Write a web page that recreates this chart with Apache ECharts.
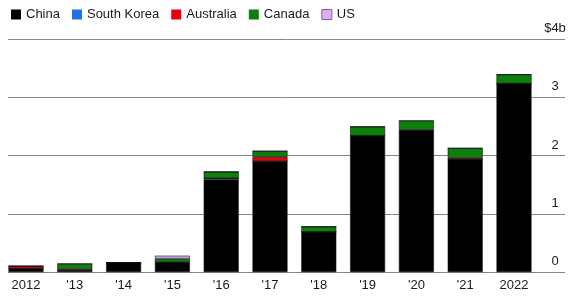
<!DOCTYPE html>
<html><head><meta charset="utf-8">
<script src="https://cdn.jsdelivr.net/npm/echarts@6/dist/echarts.min.js"></script>
<style>html,body{margin:0;padding:0;background:#fff}#c{width:581px;height:302px}</style>
</head><body><div id="c"></div>
<script>
const categories = ["2012","'13","'14","'15","'16","'17","'18","'19","'20","'21","2022"];
const china      = [0.06, 0.03, 0.16, 0.16, 1.59, 1.90, 0.69, 2.34, 2.43, 1.94, 3.235];
const southKorea = [0,    0,    0,    0.01, 0.02, 0,    0,    0,    0,    0,    0];
const australia  = [0.04, 0.02, 0,    0,    0,    0.075,0,    0,    0.01, 0.02, 0];
const canada     = [0,    0.09, 0,    0.06, 0.11, 0.10, 0.09, 0.155,0.155,0.165,0.155];
const us         = [0,    0,    0,    0.05, 0,    0,    0,    0,    0,    0,    0];
const yTicks = [0, 1, 2, 3, 4];

const FONT = "'Liberation Sans', Arial, sans-serif";
const colors = {China:'#000000','South Korea':'#1f6fe6',Australia:'#e8000b',Canada:'#0c800c',US:'#dcb0f5'};
const seriesData = [['China',china],['South Korea',southKorea],['Australia',australia],['Canada',canada],['US',us]];

const chart = echarts.init(document.getElementById('c'), null, {renderer:'canvas'});
chart.setOption({
  animation:false,
  textStyle:{fontFamily:FONT},
  legend:{
    left:11, top:8, padding:0, itemWidth:10, itemHeight:10, itemGap:12,
    textStyle:{fontSize:13, color:'#1a1a1a', fontFamily:FONT},
    icon:'rect',
    data: seriesData.map(([n]) => ({name:n, itemStyle: n==='US' ? {borderColor:'#8a5aa0', borderWidth:1} : {borderWidth:0}}))
  },
  grid:[
    {left:1.6, right:42.6, top:39, bottom:30},
    {left:8, right:16, top:39, bottom:30}
  ],
  xAxis:[
    {type:'category', gridIndex:0, data:categories,
     axisLine:{show:false}, axisTick:{show:false},
     axisLabel:{margin:7, fontSize:13, color:'#1a1a1a', fontFamily:FONT}},
    {type:'value', gridIndex:1, min:0, max:1, show:false}
  ],
  yAxis:[
    {type:'value', gridIndex:0, min:0, max:4, interval:1, show:false, splitLine:{show:false}},
    {type:'value', gridIndex:1, min:0, max:4, interval:1, position:'right',
     axisLine:{show:false}, axisTick:{show:false},
     splitLine:{show:true, lineStyle:{color:'#858585', width:1}},
     axisLabel:{inside:true, margin:10, align:'center', verticalAlign:'bottom', padding:[0,0,4,0],
       fontSize:13, color:'#1a1a1a', fontFamily:FONT,
       formatter:v => v===yTicks[yTicks.length-1] ? '$'+v+'b' : String(v)}}
  ],
  series: seriesData.map(([n,d]) => ({
    name:n, type:'bar', stack:'total', xAxisIndex:0, yAxisIndex:0,
    data:d, barWidth:35, z:3,
    itemStyle:{color:colors[n], borderColor:'#111', borderWidth:0.6}
  }))
});
</script></body></html>
